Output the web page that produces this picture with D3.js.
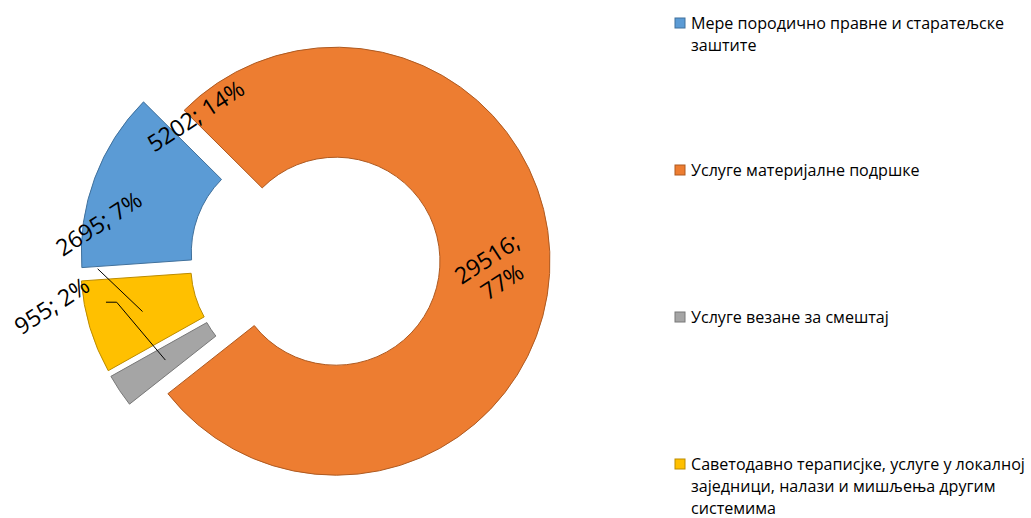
<!DOCTYPE html>
<html>
<head>
<meta charset="utf-8">
<script src="https://cdn.jsdelivr.net/npm/d3@7"></script>
<style>
  body { margin: 0; background: #fff; }
  svg { display: block; font-family: "Open Sans", sans-serif; }
</style>
</head>
<body>
<script>
//chart data
var categories = [
    "Мере породично правне и старатељске заштите",
    "Услуге материјалне подршке",
    "Услуге везане за смештај",
    "Саветодавно тераписјке, услуге у локалној заједници, налази и мишљења другим системима"
];
var values = [5202, 29516, 955, 2695];

//colours (fill + border) per slice
var colors = ["#5B9BD5", "#ED7D31", "#A5A5A5", "#FFC000"];
var strokes = ["#41719C", "#AE5A21", "#787878", "#BC8C00"];

//label placement: polar position around the donut centre (null = slice centroid)
var labelAngle = [320.4, null, 260.1, 279.5];
var labelRadius = [186.8, null, 267, 219];
var labelWrap = [false, true, false, false];
//leader lines: start offset from label centre, optional horizontal elbow length
var leaderStart = [null, null, [54, -3.7], [-1.3, 45]];
var leaderElbow = [0, 0, 10.7, 0];

var width = 1031,
    height = 518;

var cx = 315, cy = 260,
    rOuter = 214, rInner = 104,
    explode = 21;

var svg = d3.select("body")
    .append("svg")
    .attr("width", width)
    .attr("height", height);

var total = d3.sum(values);

var pie = d3.pie()
    .sort(null)
    .startAngle(266 * Math.PI / 180)
    .endAngle((266 + 360) * Math.PI / 180);

var arc = d3.arc()
    .innerRadius(rInner)
    .outerRadius(rOuter);

var arcs = pie(values);

//point at angle a (radians, clockwise from 12 o'clock) and radius r
function polar(a, r){
    return [cx + r * Math.sin(a), cy - r * Math.cos(a)];
}

function mid(d){
    return (d.startAngle + d.endAngle) / 2;
}

var chart = svg.append("g");

//slices, each pushed out along its bisector
chart.selectAll(".slice")
    .data(arcs)
    .enter()
    .append("path")
    .attr("class", "slice")
    .attr("transform", function(d){
        var a = mid(d);
        return "translate(" + (cx + explode * Math.sin(a)) + "," + (cy - explode * Math.cos(a)) + ")";
    })
    .attr("d", arc)
    .style("fill", function(d, i){ return colors[i]; })
    .style("stroke", function(d, i){ return strokes[i]; })
    .style("stroke-width", 1);

//label centres
var labelPos = arcs.map(function(d, i){
    if (labelAngle[i] === null){
        return polar(mid(d), (rInner + rOuter) / 2 + explode);
    }
    return polar(labelAngle[i] * Math.PI / 180, labelRadius[i]);
});

//leader lines
arcs.forEach(function(d, i){
    if (!leaderStart[i]) return;
    var p = labelPos[i];
    var s = [p[0] + leaderStart[i][0], p[1] + leaderStart[i][1]];
    var end = polar(mid(d), (rInner + rOuter) / 2 + explode);
    var pts = [s];
    if (leaderElbow[i]) pts.push([s[0] + leaderElbow[i], s[1]]);
    pts.push(end);
    chart.append("path")
        .attr("d", d3.line()(pts))
        .style("fill", "none")
        .style("stroke", "#000")
        .style("stroke-width", 1);
});

//data labels, rotated
var labels = chart.selectAll(".lbl")
    .data(arcs)
    .enter()
    .append("text")
    .attr("class", "lbl")
    .attr("transform", function(d, i){
        return "translate(" + labelPos[i][0] + "," + labelPos[i][1] + ") rotate(-33)";
    })
    .attr("text-anchor", "middle")
    .style("font-size", "23px")
    .style("fill", "#000");

labels.each(function(d, i){
    var pct = Math.round(values[i] / total * 100);
    var lines = labelWrap[i]
        ? [values[i] + ";", pct + "%"]
        : [values[i] + "; " + pct + "%"];
    var t = d3.select(this);
    lines.forEach(function(l, k){
        t.append("tspan")
            .attr("x", 0)
            .attr("dy", k === 0 ? (0.35 - (lines.length - 1) * 0.6) + "em" : "1.2em")
            .text(l);
    });
});

//legend
var legendX = 675, legendY0 = 18, legendStep = 147,
    lineH = 22, maxW = 345;

var legend = svg.selectAll(".legend")
    .data(categories)
    .enter()
    .append("g")
    .attr("class", "legend")
    .attr("transform", function(d, i){
        return "translate(" + legendX + "," + (legendY0 + i * legendStep) + ")";
    });

legend.append("rect")
    .attr("width", 10)
    .attr("height", 10)
    .style("fill", function(d, i){ return colors[i]; })
    .style("stroke", function(d, i){ return strokes[i]; })
    .style("stroke-width", 1);

legend.append("text")
    .attr("x", 16)
    .attr("y", 11)
    .style("font-size", "16.1px")
    .style("fill", "#000")
    .each(function(d){
        var t = d3.select(this);
        var words = d.split(" ");
        var line = [];
        var tspan = t.append("tspan").attr("x", 16).attr("dy", 0);
        words.forEach(function(w){
            line.push(w);
            tspan.text(line.join(" "));
            if (tspan.node().getComputedTextLength() > maxW && line.length > 1){
                line.pop();
                tspan.text(line.join(" "));
                line = [w];
                tspan = t.append("tspan").attr("x", 16).attr("dy", lineH).text(w);
            }
        });
    });
</script>
</body>
</html>
